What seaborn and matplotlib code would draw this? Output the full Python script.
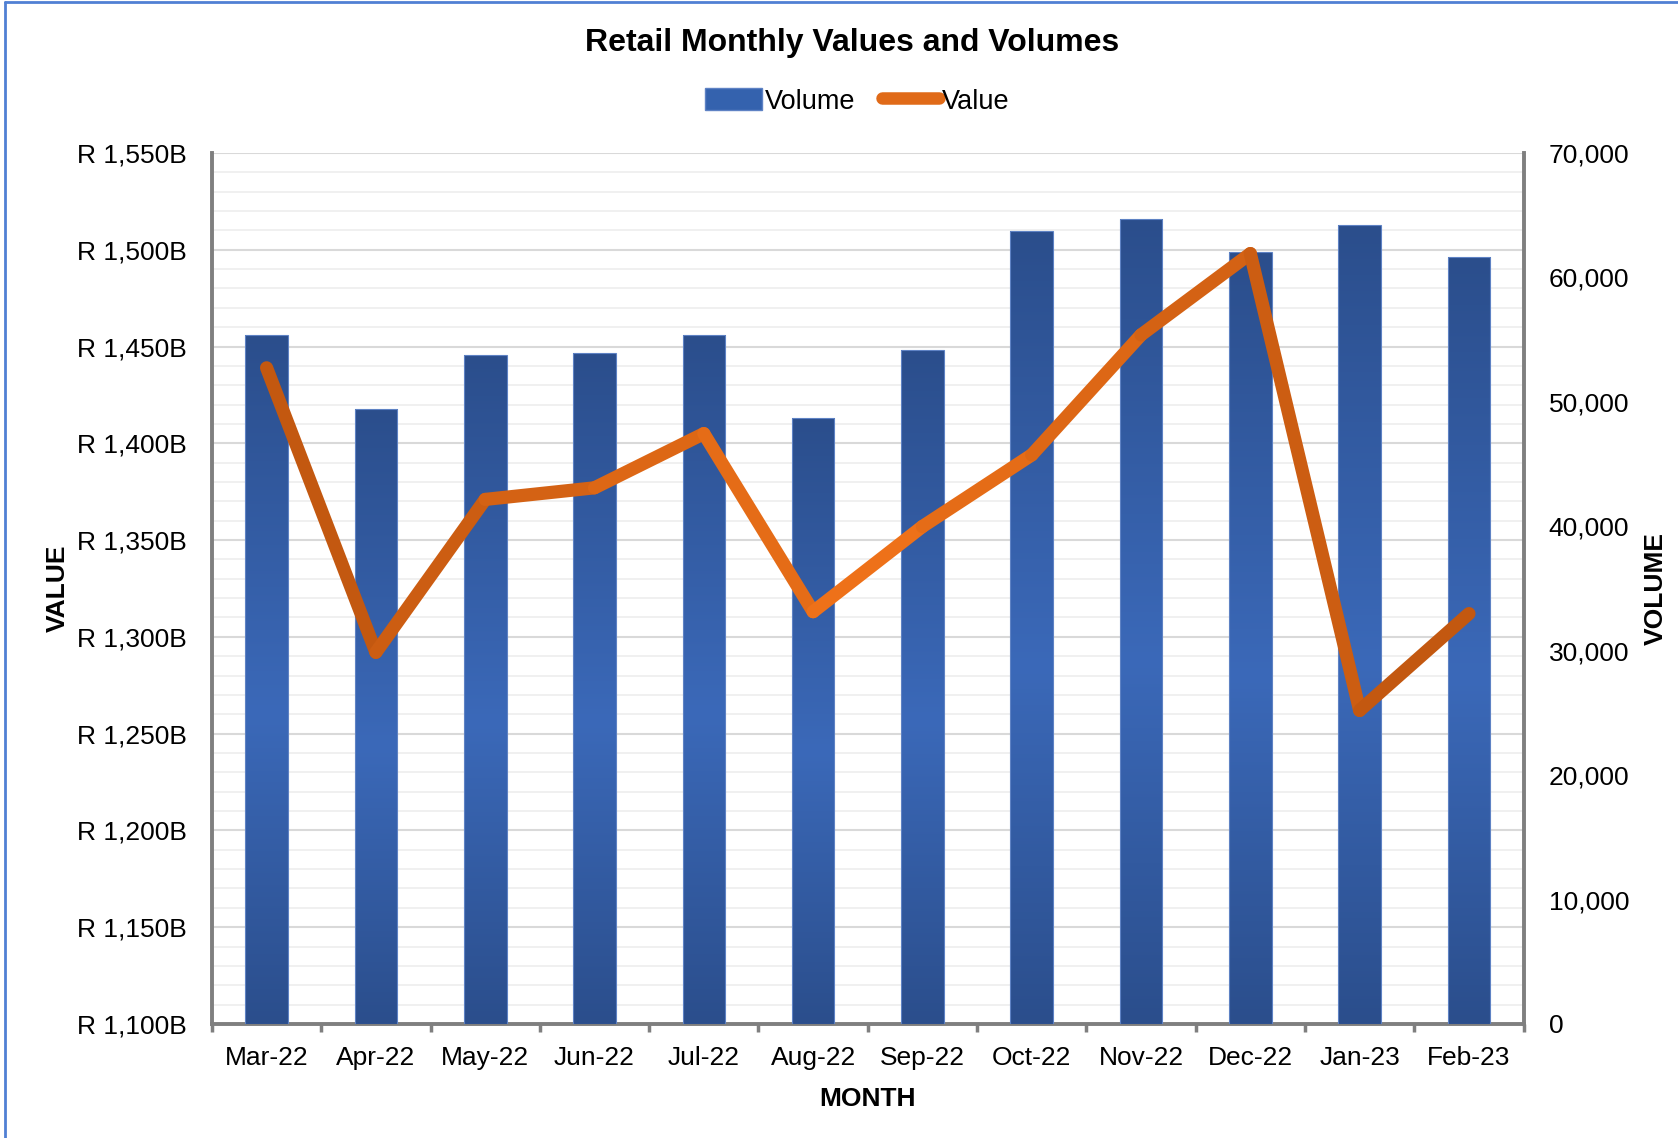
import numpy as np
import pandas as pd
import matplotlib
matplotlib.use("Agg")
import matplotlib.pyplot as plt
import seaborn as sns
from matplotlib.collections import LineCollection
from matplotlib.colors import LinearSegmentedColormap
from matplotlib.patches import Patch
from matplotlib.lines import Line2D
from matplotlib.ticker import MultipleLocator, FuncFormatter

# data
months = ["Mar-22", "Apr-22", "May-22", "Jun-22", "Jul-22", "Aug-22",
          "Sep-22", "Oct-22", "Nov-22", "Dec-22", "Jan-23", "Feb-23"]
volume = [55400, 49400, 53800, 53900, 55400, 48700,
          54200, 63700, 64700, 62000, 64200, 61600]
value_b = [1439, 1292, 1371, 1377, 1405, 1313,
           1357, 1394, 1456, 1498, 1262, 1312]

df = pd.DataFrame({"month": months, "volume": volume, "value": value_b})

sns.set_theme(style="white")
plt.rcParams["font.family"] = ["Liberation Sans", "DejaVu Sans"]
plt.rcParams.update({"text.color": "black", "axes.labelcolor": "black",
                     "xtick.color": "black", "ytick.color": "black"})

FS = 19

fig = plt.figure(figsize=(16.78, 11.38), dpi=100)
ax = fig.add_axes([0.1263, 0.1002, 0.908 - 0.1263, 0.8656 - 0.1002])
ax_bar = ax.twinx()
ax_line = ax.twinx()

# --- grid / value axis (left) ---
ax.set_xlim(-0.5, 11.5)
ax.set_ylim(1100, 1550)
ax.yaxis.set_major_locator(MultipleLocator(50))
ax.yaxis.set_minor_locator(MultipleLocator(10))
ax.yaxis.set_major_formatter(FuncFormatter(lambda v, p: f"R {v:,.0f}B"))
ax.grid(which="major", axis="y", color="#D9D9D9", lw=1.5)
ax.grid(which="minor", axis="y", color="#EFEFEF", lw=1.3)
ax.set_axisbelow(True)
ax.set_xticks(range(len(months)))
ax.set_xticklabels(months)
ax.set_xticks(np.arange(-0.5, 12, 1), minor=True)
ax.tick_params(axis="x", which="major", length=0, pad=16, labelsize=FS)
ax.tick_params(axis="x", which="minor", length=6, width=2.5, color="#7F7F7F", direction="out", bottom=True)
ax.tick_params(axis="y", which="both", length=0, pad=18, labelsize=FS, left=False)
for s in ["top", "left", "right"]:
    ax.spines[s].set_visible(False)
ax.spines["bottom"].set_color("#7F7F7F")
ax.spines["bottom"].set_linewidth(2.8)
ax.set_xlabel("MONTH", fontsize=FS, fontweight="bold")
ax.xaxis.set_label_coords(0.5, -0.072)
ax.set_ylabel("VALUE", fontsize=FS, fontweight="bold")
ax.yaxis.set_label_coords(-0.108, 0.5)

# --- bars (volume, right axis) ---
sns.barplot(data=df, x="month", y="volume", ax=ax_bar, width=0.39,
            color="#3462AE", edgecolor="#5E82C4", linewidth=0.8, saturation=1)
ax_bar.set_xlim(-0.5, 11.5)
ax_bar.set_ylim(0, 70000)
ax_bar.yaxis.set_major_locator(MultipleLocator(10000))
ax_bar.yaxis.set_major_formatter(FuncFormatter(lambda v, p: f"{v:,.0f}"))
ax_bar.tick_params(axis="y", length=0, pad=18, labelsize=FS)
ax_bar.set_xlabel("")
ax_bar.set_ylabel("VOLUME", fontsize=FS, fontweight="bold", rotation=90)
ax_bar.yaxis.set_label_coords(1.092, 0.5)
for s in ["top", "bottom"]:
    ax_bar.spines[s].set_visible(False)
for s in ["left", "right"]:
    ax_bar.spines[s].set_color("#7F7F7F")
    ax_bar.spines[s].set_linewidth(2.8)
ax_bar.grid(False)

# vertical gradient inside each bar: dark top/bottom, lighter middle
bar_cmap = LinearSegmentedColormap.from_list(
    "bar", [(0, "#2B4E8C"), (0.55, "#3B69B9"), (1, "#2B4E8C")])
grad = np.linspace(0, 1, 256).reshape(-1, 1)
for p in ax_bar.patches:
    x0, y0 = p.get_x(), p.get_y()
    w, h = p.get_width(), p.get_height()
    im = ax_bar.imshow(grad, cmap=bar_cmap, aspect="auto",
                       extent=[x0, x0 + w, y0, y0 + h], origin="upper", zorder=p.get_zorder())
    im.set_clip_path(p)
    p.set_facecolor("none")
    p.set_zorder(p.get_zorder() + 0.1)
ax_bar.set_xlim(-0.5, 11.5)
ax_bar.set_ylim(0, 70000)

# --- line (value, shares left scale) ---
sns.lineplot(data=df, x="month", y="value", ax=ax_line, color="#D9641A",
             lw=9.5, sort=False)
ax_line.set_ylim(1100, 1550)
ax_line.set_xlim(-0.5, 11.5)
ax_line.axis("off")
ln = ax_line.lines[0]
pts = ln.get_xydata()
segs = np.stack([pts[:-1], pts[1:]], axis=1)
line_cmap = LinearSegmentedColormap.from_list(
    "line", [(0, "#BF560F"), (0.5, "#EE7119"), (1, "#BF560F")])
mids = (segs[:, 0, 0] + segs[:, 1, 0]) / 2 / (len(months) - 1)
lc = LineCollection(segs, colors=line_cmap(mids), linewidths=9.5,
                    capstyle="round", joinstyle="round")
ln.set_visible(False)
ax_line.add_collection(lc)

# --- title & legend ---
fig.text(0.508, 0.962, "Retail Monthly Values and Volumes", ha="center", va="center",
         fontsize=23, fontweight="bold")
handles = [Patch(facecolor="#3462AE", edgecolor="#5E82C4", label="Volume"),
           Line2D([0], [0], color="#E06A18", lw=9, solid_capstyle="round", label="Value")]
fig.legend(handles=handles, loc="center", bbox_to_anchor=(0.511, 0.911), ncol=2,
           frameon=False, fontsize=19.5, handlelength=2.1, handleheight=0.9,
           handletextpad=0.1, columnspacing=1.0)

# thin blue frame on the top and left of the image
fig.add_artist(Line2D([0.003, 0.003], [0, 0.9985], transform=fig.transFigure,
                      color="#5080D4", lw=2))
fig.add_artist(Line2D([0.003, 1], [0.9985, 0.9985], transform=fig.transFigure,
                      color="#5080D4", lw=2))

fig.savefig("out.png", dpi=100)
